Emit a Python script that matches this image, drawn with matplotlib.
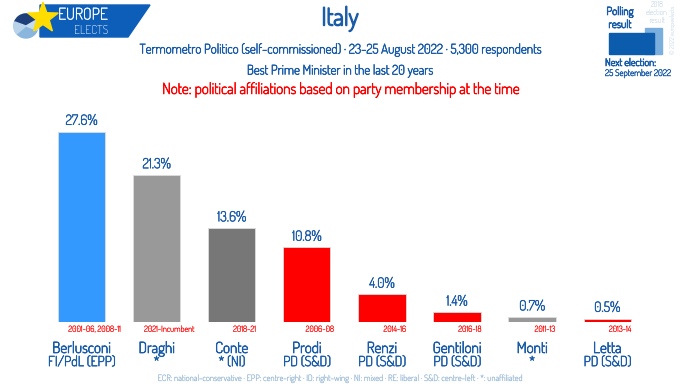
import numpy as np
import matplotlib
matplotlib.use("Agg")
import matplotlib.pyplot as plt
import matplotlib.patheffects as pe
from matplotlib.patches import Polygon, Rectangle, Wedge

plt.rcParams['font.family'] = ['Dosis', 'Abel', 'DejaVu Sans']

names = ["Berlusconi", "Draghi", "Conte", "Prodi", "Renzi", "Gentiloni", "Monti", "Letta"]
parties = ["FI/PdL (EPP)", "*", "* (NI)", "PD (S&D)", "PD (S&D)", "PD (S&D)", "*", "PD (S&D)"]
terms = ["2001-06, 2008-11", "2021-Incumbent", "2018-21", "2006-08", "2014-16", "2016-18", "2011-13", "2013-14"]
values = [27.6, 21.3, 13.6, 10.8, 4.0, 1.4, 0.7, 0.5]
colors = ["#3399FF", "#999999", "#777777", "#FF0000", "#FF0000", "#FF0000", "#999999", "#FF0000"]

blue = "#1a5ca8"
W, H = 680, 386

def bold(c, w=0.5):
    # Dosis here is thin, so thicken glyphs with a stroke of the same colour
    return [pe.withStroke(linewidth=w, foreground=c)]

fig = plt.figure(figsize=(6.8, 3.86), dpi=100)

def fx(px):
    return px / W

def fy(py):
    return 1 - py / H

# bar axes: centre of first bar at 81.5px, step 75.1px, baseline at 322px
step = 75.1
ax = fig.add_axes([fx(81.5 - step / 2), fy(322), fx(8 * step), (322 - 115) / H])
x = np.arange(len(values))
ax.bar(x, values, width=0.63, color=colors, edgecolor="#dddddd", linewidth=0.6)
ax.set_xlim(-0.5, 7.5)
ax.set_ylim(0, 30)
ax.axis("off")
for i, v in enumerate(values):
    ax.text(i, v + 0.55, f"{v:.1f}%", ha="center", va="bottom", color=blue, fontsize=10,
            path_effects=bold(blue, 0.4))
    ax.text(i + 0.17, -0.55, terms[i], ha="center", va="top", color="#FF0000", fontsize=6,
            path_effects=bold("#FF0000", 0.15))
    ax.text(i, -2.9, names[i], ha="center", va="top", color=blue, fontsize=11,
            path_effects=bold(blue, 0.55))
    ax.text(i, -4.8, parties[i], ha="center", va="top", color=blue, fontsize=10,
            path_effects=bold(blue, 0.45))

# titles
fig.text(0.5, fy(19), "Italy", ha="center", va="center", color=blue, fontsize=18,
         path_effects=bold(blue, 1.1))
fig.text(0.5, fy(50), "Termometro Politico (self-commissioned) \u00b7 23-25 August 2022 \u00b7 5,300 respondents",
         ha="center", va="center", color=blue, fontsize=9.5, path_effects=bold(blue, 0.45))
fig.text(0.5, fy(71), "Best Prime Minister in the last 20 years", ha="center", va="center", color=blue,
         fontsize=9.5, path_effects=bold(blue, 0.45))
fig.text(0.5, fy(90), "Note: political affiliations based on party membership at the time",
         ha="center", va="center", color="#FF0000", fontsize=11, path_effects=bold("#FF0000", 0.5))
fig.text(0.5, fy(379), "ECR: national-conservative \u00b7 EPP: centre-right \u00b7 ID: right-wing \u00b7 NI: mixed \u00b7 "
         "RE: liberal \u00b7 S&D: centre-left \u00b7 *: unaffiliated",
         ha="center", va="center", color="#9bbbd8", fontsize=6.2, path_effects=bold("#9bbbd8", 0.15))

# logo
lg = fig.add_axes([0, 0, 1, 1], facecolor="none")
lg.set_xlim(0, W)
lg.set_ylim(H, 0)
lg.axis("off")
lg.add_patch(Polygon([[40, 5], [150, 5], [128, 37], [40, 37]], closed=True, color="#0d5eb8"))
lg.add_patch(Wedge((26, 26), 12, 0, 360, color="#8ab6dd"))
lg.add_patch(Wedge((26, 26), 12, 200, 330, color="#1f3f7a"))
lg.add_patch(Wedge((26, 26), 12, 330, 20, color="#c7dcef"))
lg.add_patch(Wedge((26, 26), 12, 140, 200, color="#b9d3ea"))
star = []
for k in range(10):
    r = 16 if k % 2 == 0 else 6.5
    a = np.pi / 2 + k * np.pi / 5
    star.append([43 + r * np.cos(a), 18 - r * np.sin(a)])
lg.add_patch(Polygon(star, closed=True, color="#ffdd00"))
lg.text(108, 15, "EUROPE", ha="right", va="center", color="white", fontsize=11.5,
        path_effects=bold("white", 0.3))
lg.text(108, 30, "ELECTS", ha="right", va="center", color="white", fontsize=8.5)

# legend box top right
lg.add_patch(Rectangle((645, 28), 17, 26, color="#7aaedc"))
lg.add_patch(Rectangle((609, 33), 45, 21, color="#0b5cad"))
lg.text(620, 12, "Polling", ha="center", va="center", color=blue, fontsize=8, path_effects=bold(blue, 0.6))
lg.text(620, 25, "result", ha="center", va="center", color=blue, fontsize=8, path_effects=bold(blue, 0.6))
lg.text(657, 5, "2018", ha="center", va="center", color="#9bbbd8", fontsize=5.5, style="italic")
lg.text(657, 13, "election", ha="center", va="center", color="#9bbbd8", fontsize=5.5, style="italic")
lg.text(657, 21, "result", ha="center", va="center", color="#9bbbd8", fontsize=5.5, style="italic")
lg.text(605, 63, "Next election:", ha="left", va="center", color=blue, fontsize=7.5, path_effects=bold(blue, 0.55))
lg.text(605, 74, "25 September 2022", ha="left", va="center", color=blue, fontsize=6.5, path_effects=bold(blue, 0.3))
lg.text(673, 30, "\u00a9 2022 europeelects", ha="center", va="center", color="#9bbbd8", fontsize=4.5, rotation=90)

fig.savefig("out.png", dpi=100)
